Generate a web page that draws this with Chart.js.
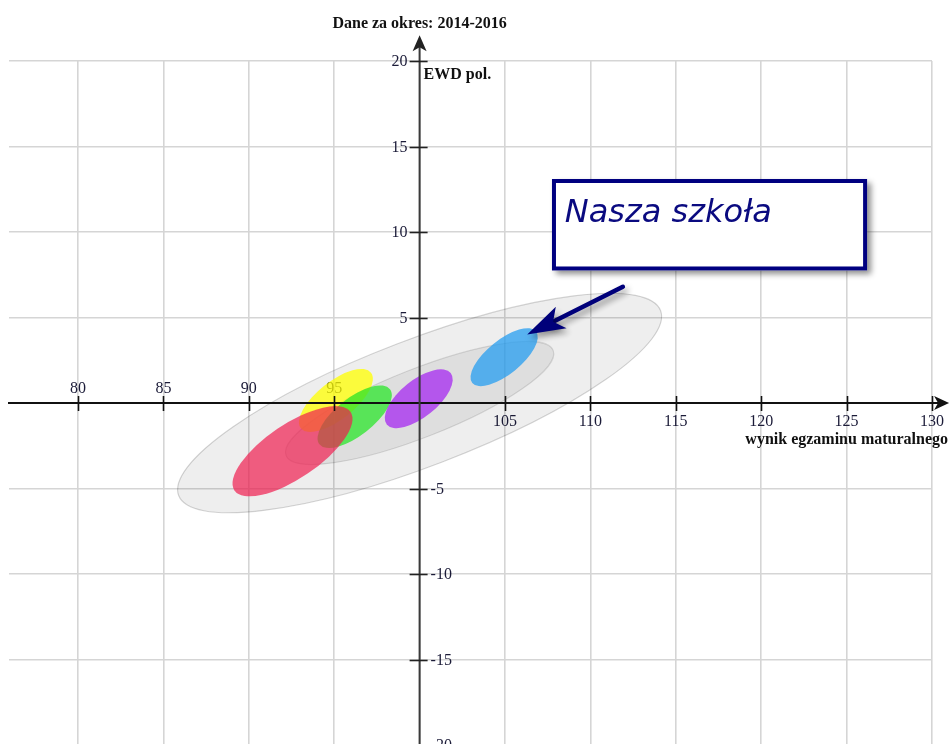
<!DOCTYPE html>
<html lang="pl">
<head>
<meta charset="utf-8">
<title>EWD - Nasza szkoła</title>
<script src="https://cdn.jsdelivr.net/npm/chart.js@4.4.1/dist/chart.umd.min.js"></script>
<style>
  html, body { margin: 0; padding: 0; background: #fff; }
  #wrap { width: 950px; height: 744px; }
</style>
</head>
<body>
<div id="wrap"><canvas id="myChart" width="950" height="744"></canvas></div>
<script>
// Osie i siatka
const xGrid = [80, 85, 90, 95, 100, 105, 110, 115, 120, 125, 130];
const yGrid = [-20, -15, -10, -5, 0, 5, 10, 15, 20];
const xTickLabels = [80, 85, 90, 95, 105, 110, 115, 120, 125, 130];
const yTickLabels = [20, 15, 10, 5, -5, -10, -15, -20];

// Elipsy: środek (wynik egzaminu, EWD), półosie w jednostkach osi, kąt nachylenia
const names = ['obszar 95%', 'obszar 68%', 'szkoła A', 'szkoła B', 'szkoła C', 'szkoła D', 'Nasza szkoła'];
const centerX = [100, 100, 95.1, 96.2, 92.56, 99.95, 104.95];
const centerY = [0, 0, 0.15, -0.8, -2.82, 0.25, 2.68];
const semiMajor = [15.1, 8.4, 2.62, 2.62, 4.1, 2.4, 2.4];
const semiMinor = [3.7, 2.0, 1.1, 1.1, 1.58, 1.08, 1.0];
const tilt = [21, 21.5, 38.4, 38, 34, 38.8, 39];

// kolory elips (kolejność rysowania jak na oryginale)
const fills = ['rgba(0,0,0,0.065)', 'rgba(0,0,0,0.07)', 'rgba(255,255,0,0.75)', 'rgba(40,230,40,0.74)',
               'rgba(240,30,80,0.7)', 'rgba(165,40,240,0.75)', 'rgba(45,160,240,0.78)'];
const strokes = ['rgba(0,0,0,0.17)', 'rgba(0,0,0,0.12)', null, null, null, null, null];

// Dymek "Nasza szkoła" (w jednostkach osi)
const note = { text: 'Nasza szkoła', x1: 107.75, y1: 13.1, x2: 126.2, y2: 7.75, tx: 108.5, ty: 10.6,
               arrowFrom: [111.9, 6.8], arrowTo: [106.3, 4.0] };

const serif = '"Liberation Serif", "Times New Roman", serif';

const ellipsePlugin = {
    id: 'elipsy',
    afterDatasetsDraw(chart) {
        const ctx = chart.ctx;
        const xs = chart.scales.x, ys = chart.scales.y;
        const kx = Math.abs(xs.getPixelForValue(1) - xs.getPixelForValue(0));
        const ky = Math.abs(ys.getPixelForValue(1) - ys.getPixelForValue(0));
        const k = (kx + ky) / 2;
        const meta = chart.getDatasetMeta(0);
        ctx.save();
        meta.data.forEach((pt, i) => {
            ctx.beginPath();
            ctx.ellipse(pt.x, pt.y, semiMajor[i] * k, semiMinor[i] * k, -tilt[i] * Math.PI / 180, 0, Math.PI * 2);
            ctx.fillStyle = fills[i];
            ctx.fill();
            if (strokes[i]) {
                ctx.strokeStyle = strokes[i];
                ctx.lineWidth = 1.2;
                ctx.stroke();
            }
        });
        ctx.restore();
    }
};

const labelsPlugin = {
    id: 'etykiety',
    beforeDatasetsDraw(chart) {
        const ctx = chart.ctx;
        const xs = chart.scales.x, ys = chart.scales.y;
        const x0 = xs.getPixelForValue(100), y0 = ys.getPixelForValue(0);
        ctx.save();
        ctx.font = '16px ' + serif;
        ctx.fillStyle = '#1b1b38';
        ctx.textAlign = 'center';
        ctx.textBaseline = 'alphabetic';
        xTickLabels.forEach(v => {
            const px = xs.getPixelForValue(v);
            ctx.fillText(String(v), px, v < 100 ? y0 - 10 : y0 + 23);
        });
        ctx.textBaseline = 'middle';
        yTickLabels.forEach(v => {
            const py = ys.getPixelForValue(v);
            if (v > 0) {
                ctx.textAlign = 'right';
                ctx.fillText(String(v), x0 - 12, py + 1);
            } else {
                ctx.textAlign = 'left';
                ctx.fillText(String(v), x0 + 11, py + 1);
            }
        });
        ctx.restore();
    }
};

function arrowHead(ctx, tipX, tipY, dirX, dirY, len, half, notch) {
    const px = -dirY, py = dirX;
    const bx = tipX - dirX * len, by = tipY - dirY * len;
    ctx.beginPath();
    ctx.moveTo(tipX, tipY);
    ctx.lineTo(bx + px * half, by + py * half);
    ctx.lineTo(tipX - dirX * (len - notch), tipY - dirY * (len - notch));
    ctx.lineTo(bx - px * half, by - py * half);
    ctx.closePath();
    ctx.fill();
}

const axesPlugin = {
    id: 'osie',
    afterDraw(chart) {
        const ctx = chart.ctx;
        const xs = chart.scales.x, ys = chart.scales.y;
        const x0 = xs.getPixelForValue(100), y0 = ys.getPixelForValue(0);
        const left = chart.chartArea.left;
        const rightTip = xs.getPixelForValue(131);
        const topTip = ys.getPixelForValue(21.5);
        ctx.save();

        // oś X
        ctx.strokeStyle = '#111';
        ctx.fillStyle = '#111';
        ctx.lineWidth = 2;
        ctx.beginPath();
        ctx.moveTo(left - 1, y0);
        ctx.lineTo(rightTip - 6, y0);
        ctx.stroke();
        arrowHead(ctx, rightTip, y0, 1, 0, 15, 7, 4);
        xTickLabels.forEach(v => {
            const px = Math.round(xs.getPixelForValue(v)) + 0.5;
            ctx.lineWidth = 1.6;
            ctx.beginPath();
            ctx.moveTo(px, y0 - 7);
            ctx.lineTo(px, y0 + 8);
            ctx.stroke();
        });

        // oś Y
        ctx.strokeStyle = '#3a3a3a';
        ctx.fillStyle = '#222';
        ctx.lineWidth = 2;
        ctx.beginPath();
        ctx.moveTo(x0, chart.height);
        ctx.lineTo(x0, topTip + 8);
        ctx.stroke();
        arrowHead(ctx, x0, topTip, 0, -1, 16, 7, 4);
        ctx.strokeStyle = '#222';
        yTickLabels.forEach(v => {
            const py = Math.round(ys.getPixelForValue(v)) + 0.5;
            ctx.lineWidth = 1.6;
            ctx.beginPath();
            ctx.moveTo(x0 - 10, py);
            ctx.lineTo(x0 + 8, py);
            ctx.stroke();
        });

        // opisy osi
        ctx.fillStyle = '#111';
        ctx.font = 'bold 16px ' + serif;
        ctx.textBaseline = 'alphabetic';
        ctx.textAlign = 'center';
        ctx.fillText('Dane za okres: 2014-2016', x0, 28);
        ctx.textAlign = 'left';
        ctx.fillText('EWD pol.', x0 + 4, 79);
        ctx.textAlign = 'right';
        ctx.fillText('wynik egzaminu maturalnego', chart.width - 2, y0 + 41);

        // dymek
        const bx1 = xs.getPixelForValue(note.x1), by1 = ys.getPixelForValue(note.y1);
        const bx2 = xs.getPixelForValue(note.x2), by2 = ys.getPixelForValue(note.y2);
        ctx.save();
        ctx.shadowColor = 'rgba(0,0,0,0.45)';
        ctx.shadowBlur = 6;
        ctx.shadowOffsetX = 4;
        ctx.shadowOffsetY = 4;
        ctx.fillStyle = '#fff';
        ctx.fillRect(bx1, by1, bx2 - bx1, by2 - by1);
        ctx.restore();
        ctx.strokeStyle = '#000080';
        ctx.lineWidth = 4;
        ctx.strokeRect(bx1 + 2, by1 + 2, bx2 - bx1 - 4, by2 - by1 - 4);
        ctx.fillStyle = '#0a0a80';
        ctx.font = 'italic 32px "DejaVu Sans", sans-serif';
        ctx.textAlign = 'left';
        ctx.fillText(note.text, xs.getPixelForValue(note.tx), ys.getPixelForValue(note.ty));

        // strzałka
        const ax1 = xs.getPixelForValue(note.arrowFrom[0]), ay1 = ys.getPixelForValue(note.arrowFrom[1]);
        const ax2 = xs.getPixelForValue(note.arrowTo[0]), ay2 = ys.getPixelForValue(note.arrowTo[1]);
        const len = Math.hypot(ax2 - ax1, ay2 - ay1);
        const dx = (ax2 - ax1) / len, dy = (ay2 - ay1) / len;
        ctx.save();
        ctx.shadowColor = 'rgba(0,0,0,0.4)';
        ctx.shadowBlur = 6;
        ctx.shadowOffsetX = 3;
        ctx.shadowOffsetY = 4;
        ctx.strokeStyle = '#00007a';
        ctx.fillStyle = '#00007a';
        ctx.lineWidth = 4.5;
        ctx.lineCap = 'round';
        ctx.beginPath();
        ctx.moveTo(ax1, ay1);
        ctx.lineTo(ax2 - dx * 25, ay2 - dy * 25);
        ctx.stroke();
        arrowHead(ctx, ax2, ay2, dx, dy, 38, 12, 9);
        ctx.restore();

        ctx.restore();
    }
};

const ctx = document.getElementById('myChart').getContext('2d');
const myChart = new Chart(ctx, {
    type: 'scatter',
    data: {
        datasets: [{
            label: 'EWD',
            data: centerX.map((x, i) => ({ x: x, y: centerY[i], name: names[i] })),
            pointRadius: 0,
            pointHoverRadius: 0
        }]
    },
    options: {
        responsive: false,
        animation: false,
        devicePixelRatio: 1,
        layout: { padding: { left: 9, right: 18, top: 61, bottom: 0 } },
        plugins: {
            legend: { display: false },
            tooltip: { enabled: false },
            title: { display: false }
        },
        scales: {
            x: {
                type: 'linear',
                min: 75.96,
                max: 130,
                afterBuildTicks: s => { s.ticks = xGrid.map(v => ({ value: v })); },
                ticks: { display: false },
                grid: { color: '#d5d5d5', lineWidth: 1.6, drawTicks: false },
                border: { display: false }
            },
            y: {
                type: 'linear',
                min: -19.94,
                max: 20,
                afterBuildTicks: s => { s.ticks = yGrid.map(v => ({ value: v })); },
                ticks: { display: false },
                grid: { color: '#d5d5d5', lineWidth: 1.6, drawTicks: false },
                border: { display: false }
            }
        }
    },
    plugins: [labelsPlugin, ellipsePlugin, axesPlugin]
});
</script>
</body>
</html>
